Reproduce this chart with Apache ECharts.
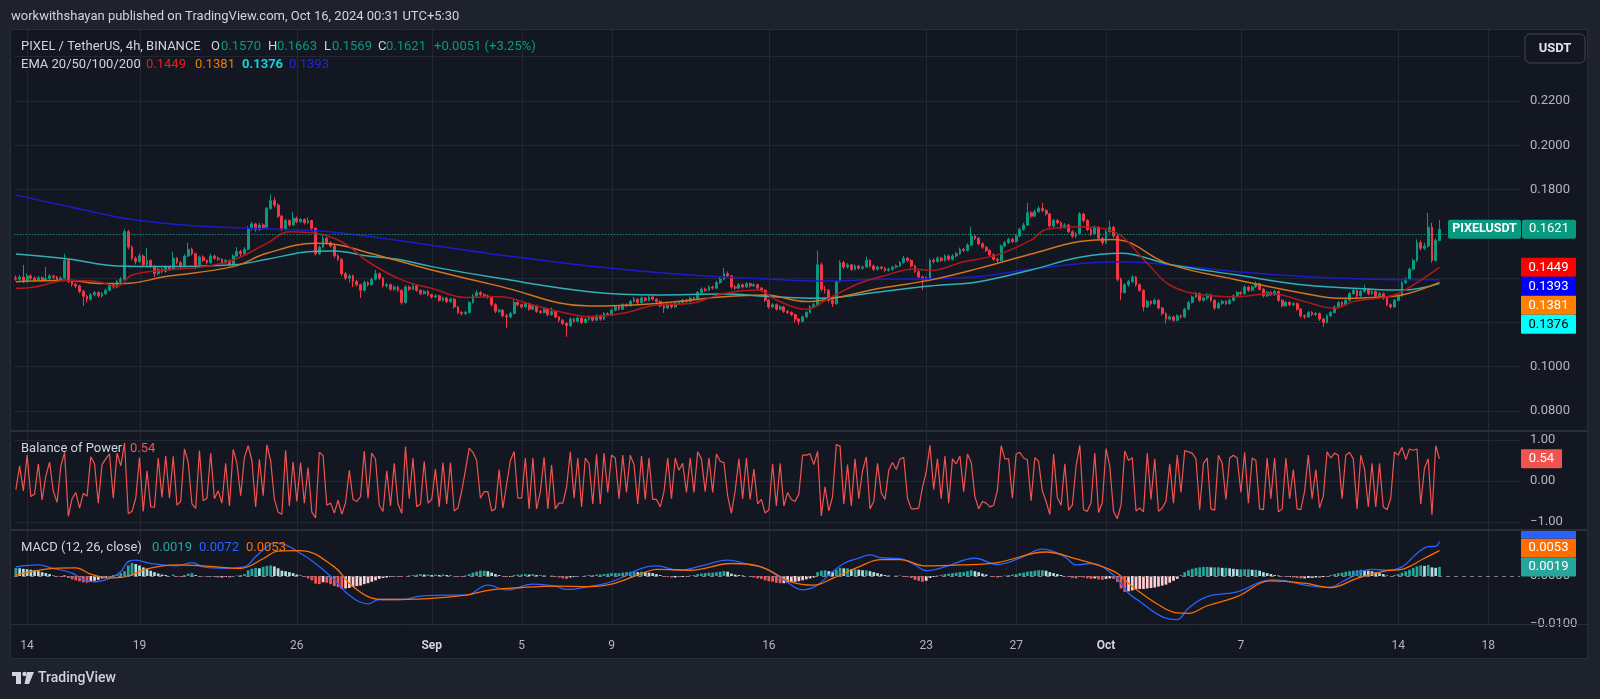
<!DOCTYPE html>
<html><head><meta charset="utf-8">
<script src="https://cdn.jsdelivr.net/npm/echarts@6/dist/echarts.min.js"></script>
<style>html,body{margin:0;padding:0;background:#131722;}#c{width:1600px;height:699px;}</style>
</head><body><div id="c"></div>
<script>
// ---------- data (4h candles, index 0 = Aug 13 13:30 UTC+5:30) ----------
const opens = [.1400,.1395,.1405,.1385,.1410,.1400,.1392,.1402,.1390,.1398,
.1410,.1405,.1392,.1400,.1480,.1385,.1372,.1365,.1340,.1318,
.1305,.1325,.1335,.1320,.1330,.1345,.1370,.1360,.1385,.1395,
.1610,.1540,.1490,.1475,.1500,.1460,.1480,.1455,.1420,.1440,
.1430,.1450,.1440,.1490,.1470,.1455,.1500,.1530,.1510,.1460,
.1495,.1480,.1470,.1500,.1490,.1485,.1470,.1480,.1460,.1500,
.1520,.1510,.1530,.1625,.1645,.1620,.1640,.1630,.1715,.1750,
.1730,.1680,.1620,.1660,.1640,.1670,.1655,.1665,.1650,.1660,
.1625,.1510,.1540,.1580,.1560,.1545,.1500,.1485,.1420,.1400,
.1410,.1385,.1370,.1345,.1380,.1370,.1395,.1420,.1400,.1365,
.1370,.1350,.1360,.1345,.1290,.1360,.1350,.1365,.1345,.1330,
.1340,.1325,.1315,.1320,.1300,.1310,.1295,.1305,.1270,.1245,
.1240,.1245,.1290,.1320,.1335,.1325,.1320,.1315,.1280,.1250,
.1255,.1230,.1225,.1240,.1290,.1280,.1270,.1285,.1260,.1275,
.1250,.1245,.1260,.1235,.1250,.1225,.1210,.1195,.1185,.1215,
.1205,.1220,.1200,.1215,.1225,.1210,.1230,.1215,.1240,.1235,
.1255,.1270,.1260,.1280,.1275,.1295,.1305,.1290,.1310,.1300,
.1315,.1305,.1295,.1275,.1265,.1280,.1270,.1285,.1290,.1300,
.1295,.1310,.1305,.1335,.1350,.1345,.1360,.1355,.1380,.1395,
.1420,.1410,.1360,.1355,.1370,.1360,.1375,.1365,.1370,.1355,
.1345,.1300,.1270,.1280,.1260,.1270,.1250,.1245,.1235,.1215,
.1205,.1225,.1245,.1270,.1280,.1460,.1350,.1345,.1300,.1285,
.1385,.1470,.1450,.1460,.1440,.1455,.1445,.1450,.1480,.1455,
.1440,.1450,.1445,.1435,.1440,.1450,.1455,.1470,.1490,.1480,
.1455,.1430,.1405,.1395,.1400,.1480,.1475,.1490,.1480,.1500,
.1485,.1500,.1510,.1530,.1525,.1550,.1590,.1580,.1555,.1540,
.1525,.1505,.1485,.1480,.1545,.1560,.1575,.1565,.1590,.1620,
.1640,.1695,.1680,.1700,.1715,.1705,.1690,.1635,.1660,.1650,
.1630,.1640,.1610,.1590,.1600,.1690,.1660,.1620,.1600,.1630,
.1580,.1560,.1610,.1630,.1590,.1395,.1335,.1370,.1385,.1405,
.1370,.1345,.1270,.1295,.1285,.1300,.1265,.1240,.1215,.1225,
.1210,.1230,.1225,.1260,.1290,.1315,.1330,.1300,.1310,.1325,
.1300,.1265,.1285,.1295,.1285,.1300,.1320,.1335,.1330,.1360,
.1345,.1360,.1375,.1350,.1320,.1335,.1325,.1340,.1300,.1275,
.1290,.1280,.1285,.1260,.1230,.1225,.1245,.1235,.1240,.1215,
.1200,.1230,.1245,.1270,.1290,.1280,.1300,.1330,.1345,.1320,
.1340,.1350,.1330,.1340,.1320,.1330,.1310,.1280,.1270,.1300,
.1320,.1380,.1395,.1440,.1480,.1560,.1535,.1545,.1630,.1480,
.1570];
const highs = [.1412,.1415,.1460,.1420,.1418,.1408,.1410,.1408,.1450,.1418,
.1416,.1410,.1408,.1510,.1488,.1392,.1380,.1370,.1348,.1325,
.1332,.1342,.1340,.1338,.1352,.1378,.1376,.1392,.1405,.1622,
.1618,.1548,.1498,.1512,.1506,.1536,.1486,.1460,.1448,.1447,
.1458,.1456,.1520,.1496,.1478,.1508,.1560,.1538,.1515,.1502,
.1503,.1486,.1510,.1506,.1498,.1490,.1487,.1485,.1508,.1540,
.1528,.1540,.1635,.1655,.1650,.1650,.1648,.1722,.1778,.1765,
.1738,.1686,.1668,.1665,.1700,.1678,.1672,.1670,.1675,.1664,
.1630,.1548,.1600,.1586,.1566,.1550,.1508,.1490,.1428,.1418,
.1416,.1392,.1375,.1388,.1386,.1402,.1437,.1426,.1405,.1378,
.1376,.1367,.1365,.1350,.1368,.1366,.1372,.1370,.1350,.1346,
.1346,.1330,.1327,.1325,.1316,.1315,.1312,.1310,.1275,.1252,
.1252,.1296,.1328,.1345,.1342,.1332,.1326,.1320,.1286,.1262,
.1260,.1238,.1248,.1305,.1296,.1286,.1292,.1290,.1282,.1280,
.1257,.1266,.1265,.1268,.1255,.1230,.1216,.1202,.1222,.1222,
.1227,.1225,.1222,.1232,.1230,.1236,.1235,.1247,.1246,.1262,
.1277,.1276,.1287,.1286,.1302,.1315,.1310,.1318,.1315,.1322,
.1320,.1310,.1300,.1282,.1287,.1286,.1292,.1297,.1307,.1306,
.1317,.1316,.1342,.1358,.1357,.1367,.1366,.1388,.1405,.1446,
.1430,.1415,.1368,.1378,.1376,.1382,.1380,.1377,.1375,.1360,
.1350,.1305,.1288,.1286,.1278,.1276,.1256,.1250,.1240,.1220,
.1232,.1252,.1278,.1290,.1524,.1470,.1365,.1352,.1310,.1392,
.1480,.1478,.1468,.1465,.1462,.1460,.1458,.1497,.1485,.1462,
.1457,.1455,.1450,.1448,.1456,.1462,.1478,.1500,.1496,.1485,
.1460,.1436,.1412,.1408,.1488,.1490,.1498,.1496,.1508,.1506,
.1508,.1518,.1538,.1537,.1558,.1632,.1598,.1585,.1562,.1546,
.1530,.1512,.1492,.1552,.1568,.1583,.1582,.1598,.1628,.1650,
.1740,.1703,.1710,.1725,.1740,.1712,.1695,.1668,.1667,.1656,
.1648,.1645,.1616,.1608,.1698,.1695,.1666,.1628,.1638,.1635,
.1586,.1618,.1660,.1636,.1596,.1402,.1378,.1392,.1413,.1410,
.1376,.1350,.1302,.1300,.1308,.1305,.1270,.1246,.1232,.1230,
.1237,.1236,.1267,.1297,.1322,.1338,.1336,.1317,.1332,.1330,
.1305,.1292,.1302,.1300,.1307,.1327,.1342,.1341,.1368,.1366,
.1367,.1385,.1380,.1355,.1342,.1341,.1347,.1345,.1305,.1297,
.1296,.1292,.1290,.1265,.1237,.1252,.1251,.1247,.1245,.1221,
.1237,.1252,.1277,.1297,.1296,.1307,.1338,.1353,.1350,.1347,
.1370,.1355,.1347,.1345,.1337,.1335,.1315,.1286,.1307,.1327,
.1388,.1403,.1448,.1488,.1575,.1570,.1560,.1695,.1650,.1580,
.1663];
const lows = [.1388,.1388,.1378,.1380,.1392,.1383,.1386,.1382,.1385,.1392,
.1396,.1385,.1386,.1395,.1378,.1362,.1355,.1332,.1275,.1290,
.1298,.1318,.1312,.1313,.1324,.1340,.1352,.1355,.1378,.1390,
.1530,.1480,.1462,.1468,.1452,.1455,.1446,.1405,.1412,.1422,
.1425,.1432,.1436,.1462,.1448,.1450,.1495,.1502,.1440,.1455,
.1472,.1462,.1466,.1483,.1477,.1462,.1464,.1452,.1456,.1495,
.1500,.1505,.1525,.1615,.1610,.1612,.1620,.1625,.1708,.1720,
.1672,.1612,.1615,.1632,.1636,.1648,.1650,.1642,.1645,.1618,
.1502,.1505,.1535,.1552,.1538,.1492,.1476,.1410,.1390,.1380,
.1360,.1362,.1310,.1340,.1362,.1365,.1390,.1392,.1358,.1358,
.1343,.1344,.1338,.1280,.1285,.1343,.1345,.1338,.1323,.1325,
.1318,.1308,.1310,.1293,.1294,.1288,.1290,.1262,.1237,.1232,
.1233,.1240,.1285,.1315,.1318,.1313,.1307,.1272,.1242,.1244,
.1222,.1175,.1218,.1236,.1272,.1262,.1265,.1253,.1255,.1243,
.1238,.1240,.1228,.1230,.1218,.1202,.1188,.1135,.1180,.1198,
.1200,.1193,.1195,.1208,.1203,.1205,.1208,.1210,.1228,.1230,
.1250,.1253,.1255,.1268,.1270,.1290,.1283,.1285,.1293,.1295,
.1298,.1288,.1268,.1243,.1260,.1263,.1265,.1278,.1284,.1288,
.1290,.1298,.1300,.1330,.1338,.1340,.1348,.1350,.1374,.1390,
.1402,.1352,.1347,.1350,.1353,.1355,.1358,.1360,.1348,.1338,
.1292,.1262,.1264,.1253,.1255,.1243,.1238,.1228,.1200,.1189,
.1200,.1220,.1240,.1265,.1275,.1340,.1330,.1290,.1270,.1280,
.1380,.1442,.1443,.1432,.1434,.1437,.1438,.1446,.1448,.1432,
.1434,.1438,.1428,.1429,.1434,.1444,.1450,.1465,.1472,.1448,
.1423,.1398,.1346,.1385,.1396,.1466,.1470,.1473,.1475,.1478,
.1480,.1494,.1505,.1518,.1520,.1545,.1572,.1548,.1532,.1518,
.1498,.1478,.1470,.1476,.1540,.1555,.1558,.1560,.1585,.1614,
.1635,.1672,.1675,.1694,.1698,.1682,.1628,.1630,.1642,.1622,
.1624,.1603,.1582,.1580,.1595,.1652,.1612,.1590,.1594,.1570,
.1548,.1555,.1604,.1582,.1385,.1300,.1330,.1362,.1378,.1362,
.1338,.1250,.1265,.1278,.1280,.1258,.1232,.1195,.1208,.1202,
.1205,.1218,.1220,.1255,.1285,.1310,.1293,.1294,.1305,.1293,
.1256,.1260,.1279,.1278,.1280,.1295,.1315,.1323,.1325,.1338,
.1340,.1355,.1343,.1312,.1315,.1318,.1320,.1292,.1268,.1270,
.1273,.1274,.1253,.1222,.1217,.1220,.1228,.1229,.1207,.1180,
.1195,.1225,.1240,.1265,.1273,.1275,.1295,.1325,.1313,.1315,
.1335,.1323,.1324,.1313,.1314,.1303,.1272,.1262,.1265,.1295,
.1315,.1374,.1390,.1435,.1472,.1525,.1528,.1538,.1470,.1475,
.1569];
const closes = [.1395,.1405,.1385,.1410,.1400,.1392,.1402,.1390,.1398,.1410,
.1405,.1392,.1400,.1480,.1385,.1372,.1365,.1340,.1318,.1305,
.1325,.1335,.1320,.1330,.1345,.1370,.1360,.1385,.1395,.1610,
.1540,.1490,.1475,.1500,.1460,.1480,.1455,.1420,.1440,.1430,
.1450,.1440,.1490,.1470,.1455,.1500,.1530,.1510,.1460,.1495,
.1480,.1470,.1500,.1490,.1485,.1470,.1480,.1460,.1500,.1520,
.1510,.1530,.1625,.1645,.1620,.1640,.1630,.1715,.1750,.1730,
.1680,.1620,.1660,.1640,.1670,.1655,.1665,.1650,.1660,.1625,
.1510,.1540,.1580,.1560,.1545,.1500,.1485,.1420,.1400,.1410,
.1385,.1370,.1345,.1380,.1370,.1395,.1420,.1400,.1365,.1370,
.1350,.1360,.1345,.1290,.1360,.1350,.1365,.1345,.1330,.1340,
.1325,.1315,.1320,.1300,.1310,.1295,.1305,.1270,.1245,.1240,
.1245,.1290,.1320,.1335,.1325,.1320,.1315,.1280,.1250,.1255,
.1230,.1225,.1240,.1290,.1280,.1270,.1285,.1260,.1275,.1250,
.1245,.1260,.1235,.1250,.1225,.1210,.1195,.1185,.1215,.1205,
.1220,.1200,.1215,.1225,.1210,.1230,.1215,.1240,.1235,.1255,
.1270,.1260,.1280,.1275,.1295,.1305,.1290,.1310,.1300,.1315,
.1305,.1295,.1275,.1265,.1280,.1270,.1285,.1290,.1300,.1295,
.1310,.1305,.1335,.1350,.1345,.1360,.1355,.1380,.1395,.1420,
.1410,.1360,.1355,.1370,.1360,.1375,.1365,.1370,.1355,.1345,
.1300,.1270,.1280,.1260,.1270,.1250,.1245,.1235,.1215,.1205,
.1225,.1245,.1270,.1280,.1460,.1350,.1345,.1300,.1285,.1385,
.1470,.1450,.1460,.1440,.1455,.1445,.1450,.1480,.1455,.1440,
.1450,.1445,.1435,.1440,.1450,.1455,.1470,.1490,.1480,.1455,
.1430,.1405,.1395,.1400,.1480,.1475,.1490,.1480,.1500,.1485,
.1500,.1510,.1530,.1525,.1550,.1590,.1580,.1555,.1540,.1525,
.1505,.1485,.1480,.1545,.1560,.1575,.1565,.1590,.1620,.1640,
.1695,.1680,.1700,.1715,.1705,.1690,.1635,.1660,.1650,.1630,
.1640,.1610,.1590,.1600,.1690,.1660,.1620,.1600,.1630,.1580,
.1560,.1610,.1630,.1590,.1395,.1335,.1370,.1385,.1405,.1370,
.1345,.1270,.1295,.1285,.1300,.1265,.1240,.1215,.1225,.1210,
.1230,.1225,.1260,.1290,.1315,.1330,.1300,.1310,.1325,.1300,
.1265,.1285,.1295,.1285,.1300,.1320,.1335,.1330,.1360,.1345,
.1360,.1375,.1350,.1320,.1335,.1325,.1340,.1300,.1275,.1290,
.1280,.1285,.1260,.1230,.1225,.1245,.1235,.1240,.1215,.1200,
.1230,.1245,.1270,.1290,.1280,.1300,.1330,.1345,.1320,.1340,
.1350,.1330,.1340,.1320,.1330,.1310,.1280,.1270,.1300,.1320,
.1380,.1395,.1440,.1480,.1560,.1535,.1545,.1630,.1480,.1570,
.1621];
// EMA lines, read as [candle index, value]
const ema20 = [[0,.1354],[5,.1360],[14,.1391],[22,.1384],[27,.1362],[31,.1414],[40,.1437],[49,.1449],[58,.1482],[67,.1557],[73,.1610],[80,.1603],[85,.1580],[89,.1542],[94,.1474],[103,.1392],[111,.1354],[120,.1313],[129,.1316],[138,.1279],[147,.1241],[153,.1226],[162,.1241],[171,.1279],[180,.1286],[189,.1331],[198,.1346],[203,.1301],[211,.1259],[217,.1309],[225,.1376],[231,.1407],[240,.1441],[244,.1434],[253,.1474],[262,.1505],[271,.1572],[275,.1620],[284,.1632],[293,.1610],[302,.1467],[308,.1369],[317,.1324],[326,.1316],[335,.1331],[344,.1294],[352,.1264],[357,.1294],[366,.1316],[370,.1339],[380,.1449]];
const ema50 = [[0,.1384],[14,.1391],[22,.1376],[29,.1376],[40,.1407],[58,.1452],[67,.1512],[80,.1557],[85,.1553],[94,.1515],[103,.1474],[111,.1437],[129,.1364],[153,.1274],[171,.1286],[189,.1316],[200,.1324],[211,.1294],[217,.1305],[231,.1355],[244,.1391],[257,.1444],[271,.1509],[284,.1565],[293,.1575],[308,.1462],[326,.1392],[344,.1331],[353,.1309],[362,.1313],[370,.1324],[380,.1381]];
const ema100 = [[0,.1509],[14,.1486],[27,.1455],[40,.1452],[58,.1460],[67,.1485],[79,.1520],[85,.1522],[94,.1500],[103,.1482],[111,.1452],[129,.1399],[153,.1339],[171,.1324],[189,.1328],[202,.1316],[214,.1309],[231,.1339],[244,.1364],[257,.1384],[271,.1437],[284,.1494],[295,.1512],[308,.1462],[326,.1414],[344,.1369],[362,.1350],[370,.1346],[380,.1376]];
const ema200 = [[0,.1775],[15,.1720],[31,.1665],[49,.1635],[62,.1625],[76,.1617],[85,.1607],[103,.1568],[129,.1505],[153,.1455],[180,.1414],[202,.1395],[215,.1387],[231,.1395],[244,.1397],[257,.1407],[271,.1440],[284,.1465],[295,.1474],[308,.1460],[326,.1429],[344,.1407],[361,.1395],[380,.1393]];
const bop = [-.21,.37,-.24,.63,-.38,-.32,.42,-.46,.12,.46,
-.25,-.52,.36,.70,-.86,-.43,-.28,-.66,-.30,-.37,
.59,.42,-.54,.40,.54,.66,-.42,.68,.37,.93,
-.80,-.74,-.42,.57,-.74,.25,-.63,-.64,.56,-.40,
.61,-.42,.60,-.59,-.50,.78,.46,-.56,-.67,.74,
-.48,-.42,.68,-.43,-.24,-.54,.43,-.61,.77,.44,
-.36,.57,.86,.50,-.63,.53,-.36,.88,.50,-.44,
-.76,-.81,.75,-.61,.47,-.50,.45,-.54,.33,-.76,
-.90,.70,.62,-.59,-.54,-.78,-.47,-.81,-.53,.26,
-.45,-.50,-.38,.73,-.42,.68,.53,-.59,-.74,.25,
-.61,.43,-.56,-.79,.84,-.43,.56,-.63,-.56,.48,
-.54,-.45,.29,-.63,.45,-.56,.45,-.73,-.66,-.25,
.26,.80,.70,.50,-.42,-.26,-.26,-.73,-.68,.28,
-.66,-.08,.50,.72,-.42,-.42,.56,-.68,.56,-.68,
-.26,.58,-.68,.39,-.68,-.54,-.54,-.15,.71,-.42,
.56,-.63,.56,.42,-.56,.65,-.56,.68,-.28,.63,
.56,-.43,.63,-.28,.63,.40,-.56,.61,-.45,.56,
-.45,-.45,-.63,-.26,.56,-.43,.56,.26,.43,-.28,
.56,-.28,.71,.54,-.26,.56,-.28,.66,.48,.45,
-.36,-.79,-.24,.54,-.43,.56,-.45,.29,-.56,-.45,
-.78,-.70,.42,-.61,.43,-.61,-.28,-.45,-.50,-.32,
.63,.63,.66,.40,.72,-.85,-.14,-.73,-.38,.89,
.85,-.56,.40,-.61,.54,-.43,.25,.59,-.68,-.50,
.43,-.29,-.45,.26,.45,.28,.54,.57,-.42,-.68,
-.68,-.66,-.15,.22,.87,-.21,.54,-.43,.61,-.54,
.54,.42,.61,-.26,.66,.46,-.38,-.68,-.50,-.54,
-.63,-.59,-.23,.86,.54,.54,-.42,.66,.70,.56,
.52,-.48,.57,.48,-.24,-.50,-.82,.66,-.40,-.59,
.42,-.71,-.59,.36,.87,-.70,-.74,-.53,.68,-.77,
-.53,.79,.36,-.74,-.92,-.59,.73,.50,.57,-.73,
-.66,-.75,.68,-.45,.54,-.74,-.66,-.49,.42,-.54,
.63,-.28,.74,.71,.68,.54,-.70,.43,.56,-.68,
-.71,.63,.43,-.45,.56,.63,.56,-.28,.70,-.54,
.56,.50,-.68,-.70,.56,-.43,.56,-.75,-.68,.56,
-.43,.28,-.68,-.70,-.25,.63,-.43,.28,-.66,-.37,
.71,.56,.68,.63,-.43,.63,.70,.54,-.68,.63,
.29,-.63,.43,-.63,.43,-.63,-.70,-.42,.71,.63,
.82,.52,.78,.75,.78,-.56,.31,.54,-.83,.86,
.54];
const macdHist = [.0017,.0016,.0015,.0014,.0013,.0012,.0010,.0008,.0006,.0004,
.0001,.0000,-.0002,.0002,-.0004,-.0007,-.0009,-.0011,-.0013,-.0014,
-.0012,-.0010,-.0008,-.0005,-.0003,-.0001,.0002,.0004,.0006,.0010,
.0022,.0027,.0025,.0022,.0018,.0015,.0011,.0008,.0005,.0003,
.0002,.0000,.0003,-.0001,-.0002,.0002,.0005,.0006,.0002,.0000,
-.0001,-.0002,-.0001,-.0002,-.0003,-.0003,-.0002,-.0003,-.0001,.0001,
.0002,.0004,.0012,.0015,.0017,.0016,.0019,.0021,.0022,.0020,
.0016,.0011,.0010,.0008,.0006,.0003,.0001,-.0002,-.0005,-.0009,
-.0016,-.0017,-.0013,-.0014,-.0017,-.0021,-.0023,-.0027,-.0026,-.0025,
-.0023,-.0021,-.0020,-.0017,-.0015,-.0012,-.0009,-.0006,-.0004,-.0003,
-.0002,-.0001,-.0001,-.0002,.0000,.0001,.0002,.0003,.0004,.0003,
.0003,.0002,.0003,.0002,.0003,.0002,.0001,-.0001,-.0002,-.0001,
.0001,.0004,.0007,.0009,.0011,.0011,.0010,.0007,.0004,.0002,
.0000,-.0002,-.0002,.0002,.0003,.0003,.0004,.0003,.0004,.0002,
.0002,.0001,.0000,.0001,-.0002,-.0003,-.0005,-.0006,-.0003,-.0002,
-.0001,.0000,.0001,.0002,.0002,.0003,.0003,.0004,.0005,.0006,
.0006,.0006,.0007,.0008,.0009,.0009,.0008,.0009,.0008,.0007,
.0006,.0004,.0002,.0000,-.0002,-.0003,-.0003,-.0002,-.0002,-.0001,
.0001,.0002,.0004,.0005,.0006,.0007,.0007,.0008,.0009,.0010,
.0009,.0005,.0003,.0002,.0001,.0000,-.0002,-.0003,-.0005,-.0006,
-.0009,-.0011,-.0012,-.0014,-.0015,-.0015,-.0014,-.0013,-.0012,-.0011,
-.0009,-.0007,-.0005,-.0003,.0008,.0011,.0012,.0010,.0009,.0013,
.0017,.0016,.0016,.0014,.0014,.0013,.0012,.0012,.0010,.0008,
.0006,.0004,.0002,.0001,.0000,.0001,.0001,.0000,-.0002,-.0004,
-.0008,-.0010,-.0012,-.0010,-.0004,-.0002,.0001,.0002,.0004,.0005,
.0006,.0007,.0008,.0008,.0010,.0012,.0010,.0008,.0005,.0003,
.0000,-.0002,-.0003,-.0001,.0001,.0002,.0003,.0004,.0006,.0007,
.0009,.0010,.0011,.0012,.0012,.0011,.0008,.0006,.0004,.0002,
.0000,-.0002,-.0004,-.0005,-.0002,-.0003,-.0005,-.0006,-.0005,-.0007,
-.0008,-.0006,-.0005,-.0006,-.0012,-.0026,-.0033,-.0032,-.0030,-.0028,
-.0027,-.0027,-.0026,-.0025,-.0024,-.0022,-.0020,-.0018,-.0014,-.0010,
-.0006,.0002,.0008,.0012,.0015,.0017,.0018,.0019,.0019,.0018,
.0018,.0018,.0017,.0017,.0016,.0015,.0014,.0014,.0014,.0014,
.0013,.0013,.0011,.0008,.0006,.0004,.0002,.0001,-.0001,-.0002,
-.0002,-.0003,-.0004,-.0005,-.0005,-.0004,-.0004,-.0003,-.0003,-.0002,
.0000,.0002,.0004,.0006,.0007,.0009,.0010,.0011,.0012,.0013,
.0012,.0011,.0010,.0008,.0006,.0004,.0001,-.0001,.0002,.0004,
.0007,.0010,.0013,.0017,.0020,.0022,.0021,.0023,.0018,.0017,
.0019];
const macdLine = [[0,.0019],[6,.0023],[10,.0016],[15,.0006],[18,-.0008],[21,-.0012],[25,-.0005],[28,.0009],[30,.0030],[32,.0033],[36,.0026],[43,.0021],[47,.0028],[50,.0019],[56,.0016],[61,.0019],[64,.0040],[66,.0054],[69,.0069],[72,.0065],[76,.0047],[80,.0026],[85,-.0008],[89,-.0040],[94,-.0058],[97,-.0049],[103,-.0049],[108,-.0042],[116,-.0040],[120,-.0040],[126,-.0019],[131,-.0029],[138,-.0017],[144,-.0021],[147,-.0028],[153,-.0022],[159,-.0012],[167,.0016],[171,.0021],[177,.0012],[183,.0021],[190,.0033],[196,.0023],[200,.0016],[205,-.0008],[210,-.0029],[214,-.0019],[217,.0002],[221,.0026],[225,.0037],[228,.0044],[231,.0038],[236,.0036],[240,.0023],[243,.0011],[248,.0019],[256,.0037],[262,.0024],[268,.0037],[274,.0056],[280,.0040],[283,.0023],[287,.0026],[293,.0002],[297,-.0036],[300,-.0053],[305,-.0081],[308,-.0090],[310,-.0091],[313,-.0067],[318,-.0043],[326,-.0033],[335,-.0008],[339,-.0010],[344,-.0019],[351,-.0024],[354,-.0012],[362,.0014],[366,.0012],[370,.0019],[374,.0047],[377,.0061],[379,.0062],[380,.0072]];
const signalLine = [[0,.0002],[4,.0009],[10,.0016],[16,.0017],[20,.0004],[25,-.0004],[29,-.0002],[35,.0015],[43,.0023],[50,.0021],[60,.0016],[66,.0036],[70,.0052],[76,.0053],[85,.0019],[89,-.0015],[94,-.0043],[98,-.0049],[110,-.0047],[120,-.0040],[126,-.0030],[135,-.0024],[144,-.0021],[153,-.0022],[159,-.0017],[167,.0005],[171,.0014],[180,.0012],[191,.0026],[198,.0021],[207,-.0012],[213,-.0019],[218,-.0005],[225,.0019],[231,.0034],[236,.0034],[243,.0021],[252,.0023],[262,.0028],[275,.0050],[282,.0038],[293,.0010],[298,-.0022],[305,-.0060],[310,-.0077],[313,-.0078],[318,-.0062],[326,-.0043],[335,-.0010],[344,-.0015],[351,-.0024],[358,-.0005],[366,.0011],[370,.0014],[376,.0037],[380,.0053]];
// x-axis: slots (candles + empty right margin) and day labels at candle index
const N_SLOTS = 402;
const dateLabels = [[3,'14'],[33,'19'],[75,'26'],[111,'Sep'],[135,'5'],[159,'9'],[201,'16'],[243,'23'],[267,'27'],[291,'Oct'],[327,'7'],[369,'14'],[393,'18']];
const headerText = 'workwithshayan published on TradingView.com, Oct 16, 2024 00:31 UTC+5:30';
const symbolText = 'PIXEL / TetherUS, 4h, BINANCE';

// ---------- chart ----------
const FONT = 'Roboto, "Noto Sans", sans-serif';
const GRIDC = '#232732';
const cats = Array.from({length: N_SLOTS}, (_, i) => String(i));
const labelMap = new Map(dateLabels);
const f4 = v => (v < 0 ? '\u2212' : '') + Math.abs(v).toFixed(4);
const f2 = v => (v < 0 ? '\u2212' : '') + Math.abs(v).toFixed(2);
const last = a => a[a.length - 1];
const histData = macdHist.map((h, i) => {
  const p = i > 0 ? macdHist[i - 1] : 0;
  let c;
  if (h >= 0) c = h >= p ? '#26a69a' : '#b2dfdb';
  else c = h < p ? '#ff5252' : '#ffcdd2';
  return {value: h, itemStyle: {color: c}};
});
const yLabel = {color: '#b2b5be', fontSize: 13, margin: 10, fontFamily: FONT};

const option = {
  backgroundColor: '#131722',
  animation: false,
  textStyle: {fontFamily: FONT},
  grid: [
    {left: 14, width: 1506, top: 56.7, height: 354.3},
    {left: 14, width: 1506, top: 440, height: 82},
    {left: 14, width: 1506, top: 528, height: 96}
  ],
  xAxis: [0, 1, 2].map(k => ({
    type: 'category', gridIndex: k, data: cats, boundaryGap: true,
    axisLine: {show: false}, axisTick: {show: false}, splitLine: {show: false},
    axisLabel: k === 2 ? {
      show: true, interval: (i) => labelMap.has(i), margin: 16,
      color: '#b2b5be', fontSize: 12, fontFamily: FONT,
      formatter: v => { const t = labelMap.get(Number(v)); return (t === 'Sep' || t === 'Oct') ? '{b|' + t + '}' : t; },
      rich: {b: {fontWeight: 'bold', color: '#d1d4dc', fontSize: 12, fontFamily: FONT}}
    } : {show: false}
  })),
  yAxis: [
    {type: 'value', gridIndex: 0, position: 'right', min: 0.08, max: 0.24, interval: 0.02,
     axisLine: {show: false}, axisTick: {show: false},
     splitLine: {show: true, lineStyle: {color: GRIDC}},
     axisLabel: Object.assign({showMaxLabel: false, formatter: f4}, yLabel)},
    {type: 'value', gridIndex: 1, position: 'right', min: -1, max: 1, interval: 1,
     axisLine: {show: false}, axisTick: {show: false},
     splitLine: {show: true, lineStyle: {color: GRIDC}},
     axisLabel: Object.assign({formatter: f2}, yLabel)},
    {type: 'value', gridIndex: 2, position: 'right', min: -0.01, max: 0.01, interval: 0.01,
     axisLine: {show: false}, axisTick: {show: false}, splitLine: {show: false},
     axisLabel: Object.assign({showMaxLabel: false, formatter: f4}, yLabel)}
  ],
  series: [
    {type: 'candlestick', xAxisIndex: 0, yAxisIndex: 0, barWidth: '62%',
     data: closes.map((c, i) => [opens[i], c, lows[i], highs[i]]),
     itemStyle: {color: '#089981', color0: '#f23645', borderColor: '#089981', borderColor0: '#f23645', borderWidth: 1},
     markLine: {silent: true, symbol: 'none', label: {show: false},
       lineStyle: {color: '#089981', type: [1, 2], width: 1},
       data: [{yAxis: last(closes)}]}},
    {type: 'line', xAxisIndex: 0, yAxisIndex: 0, data: ema200, smooth: 0.4, showSymbol: false, z: 3, lineStyle: {color: '#1c1cc8', width: 1.5}},
    {type: 'line', xAxisIndex: 0, yAxisIndex: 0, data: ema100, smooth: 0.4, showSymbol: false, z: 3, lineStyle: {color: '#2fb0b2', width: 1.5}},
    {type: 'line', xAxisIndex: 0, yAxisIndex: 0, data: ema50, smooth: 0.4, showSymbol: false, z: 3, lineStyle: {color: '#d2751c', width: 1.5}},
    {type: 'line', xAxisIndex: 0, yAxisIndex: 0, data: ema20, smooth: 0.4, showSymbol: false, z: 3, lineStyle: {color: '#b0191c', width: 1.5}},
    {type: 'line', xAxisIndex: 1, yAxisIndex: 1, data: bop, showSymbol: false, lineStyle: {color: '#f05350', width: 1.2}},
    {type: 'bar', xAxisIndex: 2, yAxisIndex: 2, data: histData, barWidth: '72%',
     markLine: {silent: true, symbol: 'none', label: {show: false},
       lineStyle: {color: '#787b86', type: [4, 4], width: 1}, data: [{yAxis: 0}]}},
    {type: 'line', xAxisIndex: 2, yAxisIndex: 2, data: macdLine, smooth: 0.4, showSymbol: false, z: 3, lineStyle: {color: '#2962ff', width: 1.3}},
    {type: 'line', xAxisIndex: 2, yAxisIndex: 2, data: signalLine, smooth: 0.4, showSymbol: false, z: 3, lineStyle: {color: '#ff6d00', width: 1.3}}
  ]
};

const chart = echarts.init(document.getElementById('c'), null, {width: 1600, height: 699});
chart.setOption(option);

// ---------- overlay: frame, legends, last-value tags ----------
const X = i => chart.convertToPixel({xAxisIndex: 0}, i);
const Y = (k, v) => chart.convertToPixel({yAxisIndex: k}, v);
const g = [];
const T = (x, y, text, fill, o = {}) => g.push({type: 'text', x, y, silent: true, z: 20,
  style: {text, fill, font: (o.w || 'normal') + ' ' + (o.s || 13) + 'px ' + FONT, align: o.a || 'left', verticalAlign: 'middle'}});
const R = (x, y, w, h, fill, o = {}) => g.push({type: 'rect', silent: true, z: o.z || 15,
  shape: {x, y, width: w, height: h, r: o.r || 0}, style: {fill, stroke: o.stroke || null, lineWidth: o.lw || 1}});
const L = (x1, y1, x2, y2, stroke, lw, z) => g.push({type: 'line', silent: true, z: z == null ? 15 : z,
  shape: {x1, y1, x2, y2}, style: {stroke, lineWidth: lw}});

// vertical day grid lines
dateLabels.forEach(([i]) => { const x = Math.round(X(i)) + 0.5; L(x, 30, x, 624, GRIDC, 1, -1); });
// surround bands
R(0, 0, 1600, 29, '#1e222d', {z: 12}); R(0, 659, 1600, 40, '#1e222d', {z: 12});
R(0, 0, 10, 699, '#1e222d', {z: 12}); R(1588, 0, 12, 699, '#1e222d', {z: 12});
g.push({type: 'rect', silent: true, z: 13, shape: {x: 10.5, y: 29.5, width: 1577, height: 629}, style: {fill: 'none', stroke: '#2a2e39', lineWidth: 1}});
// pane separators
L(10, 431, 1588, 431, '#2a2e39', 2); L(10, 530, 1588, 530, '#2a2e39', 2); L(10, 624.5, 1588, 624.5, '#2a2e39', 1);

// header + legends
T(11, 17, headerText, '#d1d4dc');
const lc = last(closes), pc = closes[closes.length - 2];
const chg = lc - pc, pct = chg / opens[opens.length - 1] * 100;
const TEAL = '#089981';
T(21, 47, symbolText, '#d1d4dc');
T(211, 47, 'O', '#d1d4dc'); T(221, 47, last(opens).toFixed(4), TEAL);
T(268, 47, 'H', '#d1d4dc'); T(277, 47, last(highs).toFixed(4), TEAL);
T(324, 47, 'L', '#d1d4dc'); T(332, 47, last(lows).toFixed(4), TEAL);
T(378, 47, 'C', '#d1d4dc'); T(386, 47, lc.toFixed(4), TEAL);
T(434, 47, (chg >= 0 ? '+' : '') + chg.toFixed(4) + ' (' + (pct >= 0 ? '+' : '') + pct.toFixed(2) + '%)', TEAL);
T(21, 65, 'EMA 20/50/100/200', '#d1d4dc');
T(146, 65, last(ema20)[1].toFixed(4), '#e5201c');
T(195, 65, last(ema50)[1].toFixed(4), '#f57c00');
T(242, 65, last(ema100)[1].toFixed(4), '#12d3d8', {w: 'bold'});
T(289, 65, last(ema200)[1].toFixed(4), '#2424e0');
T(21, 449, 'Balance of Power', '#d1d4dc');
T(130, 449, last(bop).toFixed(2), '#f05350');
T(21, 548, 'MACD (12, 26, close)', '#d1d4dc');
T(152, 548, last(macdHist).toFixed(4), '#26a69a');
T(199, 548, last(macdLine)[1].toFixed(4), '#2962ff');
T(246, 548, last(signalLine)[1].toFixed(4), '#ff6d00');

// USDT button
R(1525, 34, 60, 29, '#131722', {stroke: '#434651', r: 5, z: 16});
T(1555, 48.5, 'USDT', '#e0e3eb', {a: 'center', w: 'bold'});

// last price tag
const yp = Y(0, lc);
R(1448, yp - 9.5, 73, 19, TEAL, {r: 2}); T(1484.5, yp, 'PIXELUSDT', '#ffffff', {a: 'center', w: 'bold', s: 12.5});
R(1522, yp - 9.5, 54, 19, TEAL, {r: 2}); T(1549, yp, lc.toFixed(4), '#ffffff', {a: 'center'});
// EMA tags stacked below EMA20 value
const emaTags = [[last(ema20)[1], '#ff0000', '#ffffff'], [last(ema200)[1], '#0000ff', '#ffffff'],
                 [last(ema50)[1], '#ff7f00', '#ffffff'], [last(ema100)[1], '#00ffff', '#000000']];
const ye = Y(0, emaTags[0][0]);
emaTags.forEach(([v, bg, fg], k) => { const yc = ye + 19 * k; R(1521, yc - 9.5, 55, 19, bg, {r: 1}); T(1548.5, yc, v.toFixed(4), fg, {a: 'center'}); });
// BOP tag
const yb = Y(1, last(bop));
R(1521, yb - 9.5, 41, 19, '#f05350', {r: 1}); T(1541.5, yb, last(bop).toFixed(2), '#ffffff', {a: 'center'});
// MACD tags stacked upward from histogram value
const ym = Y(2, last(macdHist));
R(1521, ym - 9.5, 55, 19, '#26a69a', {r: 1}); T(1548.5, ym, last(macdHist).toFixed(4), '#ffffff', {a: 'center'});
R(1521, ym - 28.5, 55, 19, '#ff6d00', {r: 1}); T(1548.5, ym - 19, last(signalLine)[1].toFixed(4), '#ffffff', {a: 'center'});
R(1521, 531, 55, Math.max(0, ym - 28.5 - 531), '#2962ff', {r: 1});

// TradingView logo
R(12, 672, 9, 4, '#d1d4dc', {z: 20}); R(16, 672, 5, 12, '#d1d4dc', {z: 20});
g.push({type: 'circle', silent: true, z: 20, shape: {cx: 24.5, cy: 674, r: 2.2}, style: {fill: '#d1d4dc'}});
g.push({type: 'polygon', silent: true, z: 20, shape: {points: [[27, 672], [34, 672], [29, 684], [24.5, 684]]}, style: {fill: '#d1d4dc'}});
T(38, 678.5, 'TradingView', '#d1d4dc', {s: 14, w: '500'});

chart.setOption({graphic: {elements: g}});
</script>
</body></html>
